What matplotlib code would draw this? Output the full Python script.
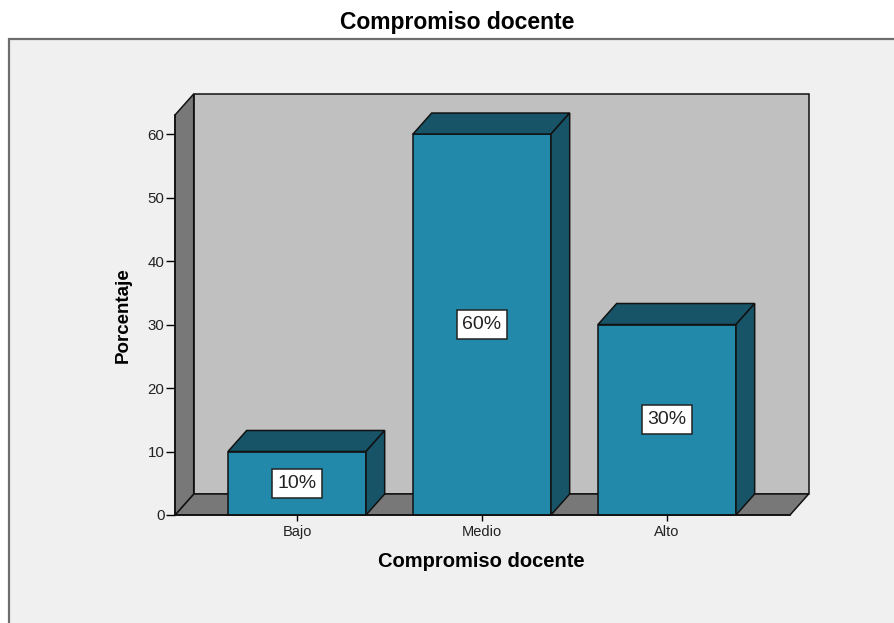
import matplotlib
matplotlib.use("Agg")
import matplotlib.pyplot as plt
from matplotlib.patches import Polygon, Rectangle

plt.rcParams['font.family'] = ['Liberation Sans', 'DejaVu Sans']

# data
categorias = ['Bajo', 'Medio', 'Alto']
porcentajes = [10, 60, 30]
etiquetas = ['10%', '60%', '30%']
yticks = [0, 10, 20, 30, 40, 50, 60]

# colours (SPSS style)
col_front = '#2389AA'
col_dark = '#175468'
col_wall = '#C0C0C0'
col_floor = '#787878'
col_edge = '#111111'

fig = plt.figure(figsize=(8.94, 6.23), dpi=100)
fig.patch.set_facecolor('white')

# outer chart frame (behind the axes)
frame = Rectangle((8.5 / 894, -0.02), 1.0, 1 - 38.5 / 623 + 0.02,
                  transform=fig.transFigure, facecolor='#F0F0F0',
                  edgecolor='#6E6E6E', linewidth=1.6, zorder=-1)
fig.patches.append(frame)

ax = fig.add_axes([175 / 894, 108 / 623, 615 / 894, 400 / 623])
ax.patch.set_alpha(0)

xmin, xmax = -0.6595, 2.665
ymax = 63
dx, dy = 0.101, 3.31   # depth offset
ancho = 0.746

ax.set_xlim(xmin, xmax)
ax.set_ylim(0, ymax)

def poly(pts, fc, z=1):
    p = Polygon(pts, closed=True, facecolor=fc, edgecolor=col_edge,
                linewidth=1.1, clip_on=False, zorder=z)
    ax.add_patch(p)

# back wall, floor, left wall
poly([(xmin + dx, dy), (xmax + dx, dy), (xmax + dx, ymax + dy), (xmin + dx, ymax + dy)], col_wall)
poly([(xmin, 0), (xmax, 0), (xmax + dx, dy), (xmin + dx, dy)], col_floor)
poly([(xmin, 0), (xmin + dx, dy), (xmin + dx, ymax + dy), (xmin, ymax)], col_floor)

# 3d bars
for i, v in enumerate(porcentajes):
    x0 = i - ancho / 2
    x1 = i + ancho / 2
    poly([(x0, 0), (x1, 0), (x1, v), (x0, v)], col_front, 2)
    poly([(x0, v), (x1, v), (x1 + dx, v + dy), (x0 + dx, v + dy)], col_dark, 2)
    poly([(x1, 0), (x1 + dx, dy), (x1 + dx, v + dy), (x1, v)], col_dark, 2)
    ax.text(i, v / 2, etiquetas[i], ha='center', va='center', fontsize=14,
            color='#222222', zorder=5,
            bbox=dict(boxstyle='square,pad=0.3', facecolor='white',
                      edgecolor='#222222', linewidth=1.1))

for s in ['top', 'right']:
    ax.spines[s].set_visible(False)
for s in ['left', 'bottom']:
    ax.spines[s].set_color(col_edge)
    ax.spines[s].set_linewidth(1.2)

ax.set_yticks(yticks)
ax.set_xticks(range(len(categorias)))
ax.set_xticklabels(categorias)
ax.tick_params(axis='y', direction='out', length=6.5, width=1, pad=1,
               labelsize=10.8, labelcolor='#222222')
ax.tick_params(axis='x', direction='out', length=4.5, width=1, pad=3,
               labelsize=10.5, labelcolor='#222222')

ax.set_ylabel('Porcentaje', fontsize=13.5, fontweight='bold')
ax.yaxis.set_label_coords(-0.070, 0.5)
ax.set_xlabel('Compromiso docente', fontsize=14.5, fontweight='bold')
ax.xaxis.set_label_coords(0.4976, -0.093)

fig.text(457.5 / 894, 1 - 22.5 / 623, 'Compromiso docente', ha='center',
         va='center', fontsize=16.5, fontweight='bold')

fig.savefig('out.png', dpi=100)
